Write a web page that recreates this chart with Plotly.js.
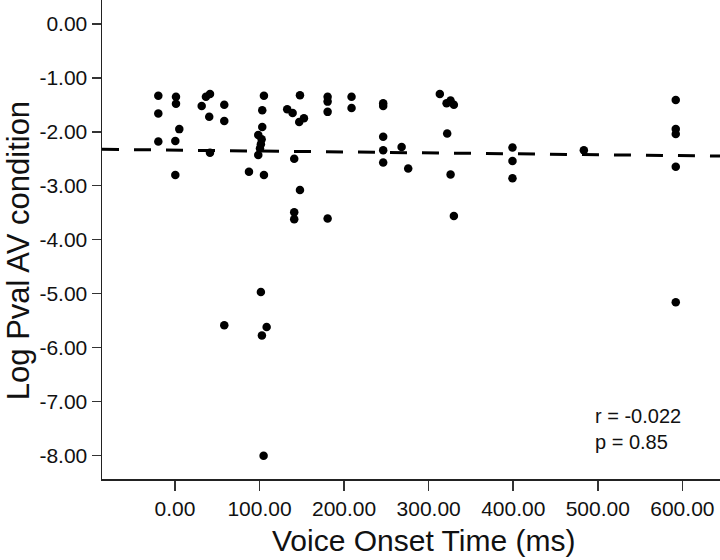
<!DOCTYPE html>
<html>
<head>
<meta charset="utf-8">
<script src="https://cdn.plot.ly/plotly-3.0.1.min.js"></script>
<style>html,body{margin:0;padding:0;background:#fff;}#chart{width:720px;height:560px;}</style>
</head>
<body>
<div id="chart"></div>
<script>
// Voice onset time (ms) for each point
var votMs = [
  -19.7, -19.7, -19.7,
  1.2, 1.2, 5.1, 0.4, 0.4,
  41.4, 36.6, 31.6, 58.3, 40.5, 58.3, 41.4,
  105.2, 103.2, 103.2, 98.5, 102.5, 101.6, 100.5, 98.5, 87.5, 105.2,
  58.3, 108.4, 102.8, 104.8, 101.6,
  147.8, 132.7, 139.1, 152.5, 146.9, 141.0, 147.8, 141.0, 141.0,
  180.5, 180.5, 180.5, 180.5,
  208.8, 208.8,
  246.2, 246.2, 246.2, 246.2, 246.2,
  268.0, 275.8,
  313.2, 321.2, 325.9, 329.8, 321.9, 325.9, 329.8,
  399.1, 399.1, 399.1,
  483.5,
  592.2, 592.2, 592.2, 592.2, 592.2
];
// Log p-value in AV condition for each point
var logPval = [
  -1.33, -1.66, -2.18,
  -1.35, -1.48, -1.95, -2.17, -2.80,
  -1.30, -1.35, -1.52, -1.50, -1.72, -1.80, -2.39,
  -1.33, -1.60, -1.91, -2.06, -2.14, -2.23, -2.31, -2.43, -2.74, -2.80,
  -5.59, -5.62, -5.78, -8.01, -4.97,
  -1.32, -1.58, -1.65, -1.75, -1.82, -2.50, -3.08, -3.49, -3.62,
  -1.35, -1.44, -1.63, -3.61,
  -1.35, -1.56,
  -1.47, -1.52, -2.09, -2.34, -2.57,
  -2.28, -2.68,
  -1.30, -1.47, -1.42, -1.50, -2.03, -2.79, -3.56,
  -2.29, -2.54, -2.86,
  -2.34,
  -1.41, -1.95, -2.04, -2.65, -5.16
];
// Fitted regression line endpoints
var fitX = [-86.3, 644.5];
var fitY = [-2.325, -2.45];
// Tick values and labels
var xTickVals = [0, 100, 200, 300, 400, 500, 600];
var xTickText = ["0.00", "100.00", "200.00", "300.00", "400.00", "500.00", "600.00"];
var yTickVals = [0, -1, -2, -3, -4, -5, -6, -7, -8];
var yTickText = ["0.00", "-1.00", "-2.00", "-3.00", "-4.00", "-5.00", "-6.00", "-7.00", "-8.00"];
var xTitle = "Voice Onset Time (ms)";
var yTitle = "Log Pval AV condition";
var statsText = ["r = -0.022", "p = 0.85"];

var FONT = "Liberation Sans, Arial, sans-serif";

var traces = [
  {
    x: fitX, y: fitY, type: "scatter", mode: "lines",
    line: {color: "#000", width: 3, dash: "17px,15px"},
    hoverinfo: "skip", showlegend: false
  },
  {
    x: votMs, y: logPval, type: "scatter", mode: "markers",
    marker: {color: "#000", size: 8.5, line: {width: 0}},
    showlegend: false
  }
];

var layout = {
  width: 720, height: 560,
  margin: {l: 102, r: 0, t: 0, b: 81, pad: 0},
  paper_bgcolor: "#fff", plot_bgcolor: "#fff",
  font: {family: FONT, color: "#000", size: 21},
  showlegend: false,
  xaxis: {
    range: [-86.3, 644.5], showgrid: false, zeroline: false,
    showline: true, linecolor: "#222", linewidth: 1.5,
    ticks: "outside", ticklen: 10, tickwidth: 1.5, tickcolor: "#333",
    tickvals: xTickVals, ticktext: xTickText,
    tickfont: {family: FONT, size: 21, color: "#111"}
  },
  yaxis: {
    range: [-8.44, 0.445], showgrid: false, zeroline: false,
    showline: true, linecolor: "#222", linewidth: 1.5,
    ticks: "outside", ticklen: 9, tickwidth: 1.5, tickcolor: "#333",
    tickvals: yTickVals, ticktext: yTickText,
    tickfont: {family: FONT, size: 21, color: "#111"}
  },
  annotations: [
    {x: 0.52, y: -0.128, xref: "paper", yref: "paper", text: xTitle, showarrow: false,
     xanchor: "center", yanchor: "middle", font: {family: FONT, size: 30, color: "#111"}},
    {x: -0.134, y: 0.476, xref: "paper", yref: "paper", text: yTitle, showarrow: false,
     textangle: -90, xanchor: "center", yanchor: "middle", font: {family: FONT, size: 31, color: "#111"}},
    {x: 494, y: -7.27, xref: "x", yref: "y", text: statsText[0], showarrow: false,
     xanchor: "left", yanchor: "middle", font: {family: FONT, size: 20, color: "#111"}},
    {x: 494, y: -7.75, xref: "x", yref: "y", text: statsText[1], showarrow: false,
     xanchor: "left", yanchor: "middle", font: {family: FONT, size: 20, color: "#111"}}
  ]
};

Plotly.newPlot("chart", traces, layout, {staticPlot: true, displayModeBar: false});
</script>
</body>
</html>
